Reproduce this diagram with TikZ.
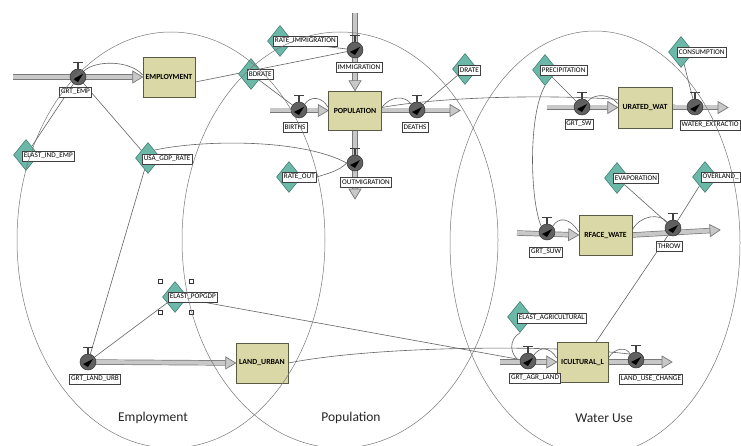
\documentclass[tikz,border=0pt]{standalone}
\usepackage{fontspec}
\setmainfont{Carlito}
\usetikzlibrary{shapes.geometric,calc}
\definecolor{stockfill}{RGB}{218,216,166}
\definecolor{stockedge}{RGB}{90,90,70}
\definecolor{auxfill}{RGB}{108,184,168}
\definecolor{auxedge}{RGB}{60,120,108}
\definecolor{pipeedge}{RGB}{120,120,120}
\definecolor{pipefill}{RGB}{200,200,200}
\definecolor{linkcol}{RGB}{100,100,100}
\definecolor{ringcol}{RGB}{120,120,120}
\pgfdeclarelayer{bg}
\pgfdeclarelayer{mid}
\pgfdeclarelayer{fg}
\pgfsetlayers{bg,mid,main,fg}
\tikzset{
 stock/.style={rectangle, draw=stockedge, line width=0.7pt, fill=stockfill, minimum width=52pt, minimum height=40pt, inner sep=0pt, font=\fontsize{7.8}{8}\selectfont\bfseries},
 aux/.style={diamond, draw=auxedge, line width=0.5pt, fill=auxfill, minimum width=25pt, minimum height=31pt, inner sep=0pt},
 lbl/.style={rectangle, draw=black!75, line width=0.5pt, fill=white, inner xsep=1.6pt, inner ysep=0pt, minimum height=10pt, font=\fontsize{7.2}{8}\selectfont},
 valve/.style={circle, draw=black!80, line width=0.5pt, fill=gray!75!black, minimum size=16pt, inner sep=0pt},
 link/.style={draw=linkcol, line width=0.6pt},
 ring/.style={draw=ringcol, line width=0.5pt},
 pipeline/.style={draw=pipeedge, line width=0.7pt, double=pipefill, double distance=4pt},
 pipehead/.style={draw=pipeedge, line width=0.7pt, fill=pipefill, line join=miter},
 handle/.style={draw=black!75, line width=1.3pt},
 sel/.style={rectangle, draw=black!80, fill=white, line width=0.5pt, minimum size=4pt, inner sep=0pt},
 section/.style={font=\fontsize{13.5}{15}\selectfont, text=black!85},
}
\newcommand\flowpipe[2]{%
  \coordinate (pb) at ($(#2)!10pt!(#1)$);
  \path[pipeline] (#1) -- (pb);
  \path[pipehead] (#2) -- ($(pb)!6pt!90:(#2)$) -- ($(pb)!6pt!-90:(#2)$) -- cycle;
}
\newcommand\valvedeco[1]{%
  \draw[handle] (#1.north) -- ++(0,-6);
  \draw[handle] ($(#1.north)+(-5,-6)$) -- ++(10,0);
  \fill[black] ($(#1.center)+(-5,2)$) -- ($(#1.center)+(5,-3)$) -- ($(#1.center)+(0,5)$) -- cycle;
}
\begin{document}
\begin{tikzpicture}[x=1pt,y=-1pt]
\useasboundingbox (0,0) rectangle (741,446);
\begin{pgfonlayer}{bg}
\fill[white] (0,0) rectangle (741,446);
\end{pgfonlayer}

% ---------- stocks
\node[stock] (EMP) at (169,77) {EMPLOYMENT};
\node[stock, minimum width=53pt, minimum height=39pt] (POP) at (355,110.5) {POPULATION};
\node[stock] (LU) at (262,363) {LAND\_URBAN};
\node[stock, minimum width=54pt, minimum height=41pt] (SAT) at (645,107.5) {URATED\_WAT};
\node[stock, minimum width=53pt] (SURF) at (605.5,235) {RFACE\_WATE};
\node[stock, minimum width=51pt] (AGRI) at (582.5,362) {ICULTURAL\_L};

% ---------- valves
\node[valve] (vemp) at (78,77) {};
\node[valve] (vimm) at (355,50) {};
\node[valve] (vbir) at (299,110) {};
\node[valve] (vdea) at (417,110) {};
\node[valve] (vout) at (355,163) {};
\node[valve] (vlu) at (88,362) {};
\node[valve] (vsw) at (582,107) {};
\node[valve] (vwx) at (695,107) {};
\node[valve] (vsuw) at (547,232) {};
\node[valve] (vthr) at (673,228) {};
\node[valve] (vagr) at (528,361) {};
\node[valve] (vluc) at (636,360) {};
\foreach \v in {vemp,vimm,vbir,vdea,vout,vlu,vsw,vwx,vsuw,vthr,vagr,vluc}{\valvedeco{\v}}

% ---------- auxiliaries
\node[aux] (deie) at (26,155) {};
\node[aux] (dusa) at (148,158) {};
\node[aux] (depg) at (175,297) {};
\node[aux] (dbd) at (251,74) {};
\node[aux] (drimm) at (280,41) {};
\node[aux] (ddr) at (465,69) {};
\node[aux] (dro) at (289,177) {};
\node[aux] (dprec) at (545,70) {};
\node[aux] (dcons) at (681,52) {};
\node[aux] (devap) at (617,178) {};
\node[aux] (dover) at (705,177) {};
\node[aux] (deagr) at (520,317) {};

% ---------- auxiliary labels
\node[lbl, anchor=west] (leie) at (22,156) {ELAST\_IND\_EMP};
\node[lbl, anchor=west] (lusa) at (142,159) {USA\_GDP\_RATE};
\node[lbl, anchor=west] (lepg) at (168,297) {ELAST\_POPGDP};
\node[lbl, anchor=west] (lbd) at (247,74) {BDRATE};
\node[lbl, anchor=west] (lrimm) at (273,41) {RATE\_IMMIGRATION};
\node[lbl, anchor=west] (ldr) at (458,70) {DRATE};
\node[lbl, anchor=west] (lro) at (282,177) {RATE\_OUT};
\node[lbl, anchor=west] (lprec) at (540,70) {PRECIPITATION};
\node[lbl, anchor=west] (lcons) at (677,52) {CONSUMPTION};
\node[lbl, anchor=west] (levap) at (613,178) {EVAPORATION};
\node[lbl, anchor=east] (lover) at (740.5,177) {OVERLAND\_};
\node[lbl, anchor=west] (leagr) at (517,318) {ELAST\_AGRICULTURAL};

% ---------- valve labels
\node[lbl] (lemp) at (75.5,92) {GRT\_EMP};
\node[lbl] (limm) at (359,67) {IMMIGRATION};
\node[lbl] (lbir) at (295,127) {BIRTHS};
\node[lbl] (ldea) at (415,127) {DEATHS};
\node[lbl] (lout) at (366,182) {OUTMIGRATION};
\node[lbl] (llu) at (95,379) {GRT\_LAND\_URB};
\node[lbl] (lsw) at (579,124) {GRT\_SW};
\node[lbl, anchor=east] (lwx) at (740.5,125) {WATER\_EXTRACTIO};
\node[lbl] (lsuw) at (546,252) {GRT\_SUW};
\node[lbl] (lthr) at (669,246) {THROW};
\node[lbl] (lagr) at (535,378) {GRT\_AGR\_LAND};
\node[lbl] (lluc) at (651,379) {LAND\_USE\_CHANGE};

% selection handles
\node[sel] (s1) at (160,281) {};
\node[sel] (s2) at (191,281) {};
\node[sel] (s3) at (160,312) {};
\node[sel] (s4) at (191,312) {};

% ---------- pipes
\begin{pgfonlayer}{mid}
\coordinate (semp) at (13,77);
\coordinate (simm) at (355,13);
\coordinate (sbir) at (270,110.5);
\coordinate (edea) at (460,110.5);
\coordinate (eout) at (355,199);
\coordinate (ssw) at (547,107.5);
\coordinate (ewx) at (728,107.5);
\coordinate (ssuw) at (517,233);
\coordinate (ethr) at (720,230);
\coordinate (sagr) at (500,362);
\coordinate (eluc) at (672,362);
\flowpipe{semp}{EMP.west}
\flowpipe{simm}{POP.north}
\flowpipe{sbir}{POP.west}
\flowpipe{POP.east}{edea}
\flowpipe{POP.south}{eout}
\flowpipe{vlu.center}{LU.west}
\flowpipe{ssw}{SAT.west}
\flowpipe{SAT.east}{ewx}
\flowpipe{ssuw}{SURF.west}
\flowpipe{SURF.east}{ethr}
\flowpipe{sagr}{AGRI.west}
\flowpipe{AGRI.east}{eluc}
\end{pgfonlayer}

% ---------- links
\begin{pgfonlayer}{bg}
\draw[link] (deie) -- (vemp);
\draw[link] (vemp) -- (dusa);
\draw[link] (dusa) -- (vlu);
\draw[link] (depg) -- (vlu);
\draw[link] (depg) -- (vagr);
\draw[link] ([yshift=-5pt]EMP.east) -- (vimm);
\draw[link] (drimm) -- (vimm);
\draw[link] (dbd) -- (vbir);
\draw[link] (ddr) -- (vdea);
\draw[link] (dprec) -- (vsw);
\draw[link] (dcons) -- (vwx);
\draw[link] (devap) -- (vthr);
\draw[link] (dover) -- (vthr);
\draw[link] (AGRI) -- (vthr);
% curved links
\draw[link] ([yshift=3pt]POP.east) .. controls (450,95) and (600,92) .. (vwx.west);
\draw[link] (dusa.north east) .. controls (200,140) and (300,138) .. (vout.west);
\draw[link] (lro.east) .. controls (330,173) and (340,170) .. (vout.west);
\draw[link] (dprec.south) .. controls (528,115) and (530,200) .. (vsuw.north west);
\draw[link] (deagr.south) .. controls (508,340) and (510,355) .. (vagr.west);
\draw[link] (LU.east) .. controls (380,345) and (560,345) .. (vluc.north west);
% flow arcs
\draw[link] (vemp.north east) .. controls (95,60) and (130,60) .. ([yshift=2pt]EMP.west);
\draw[link] (vbir.north east) .. controls (310,96) and (322,96) .. ([yshift=3pt]POP.west);
\draw[link] ([yshift=3pt]POP.east) .. controls (390,96) and (405,95) .. (vdea.north west);
\draw[link] (vsw.north east) .. controls (595,93) and (610,94) .. ([yshift=4pt]SAT.west);
\draw[link] (vsuw.north east) .. controls (558,217) and (570,217) .. ([yshift=3pt]SURF.west);
\draw[link] ([yshift=5pt]SURF.east) .. controls (640,215) and (660,213) .. (vthr.north west);
\draw[link] (vagr.north east) .. controls (540,346) and (550,347) .. ([yshift=4pt]AGRI.west);
\draw[link] ([yshift=4pt]AGRI.east) .. controls (615,347) and (627,347) .. (vluc.north west);
\end{pgfonlayer}

% ---------- sector ellipses and captions
\begin{pgfonlayer}{fg}
\draw[ring] (171,240) ellipse [x radius=154, y radius=208];
\draw[ring] (340,240) ellipse [x radius=158, y radius=208];
\draw[ring] (595,243) ellipse [x radius=145, y radius=212];
\end{pgfonlayer}
\node[section] (temp) at (153,418) {Employment};
\node[section] (tpop) at (351,418) {Population};
\node[section] (twat) at (604,418) {Water Use};
\end{tikzpicture}
\end{document}
